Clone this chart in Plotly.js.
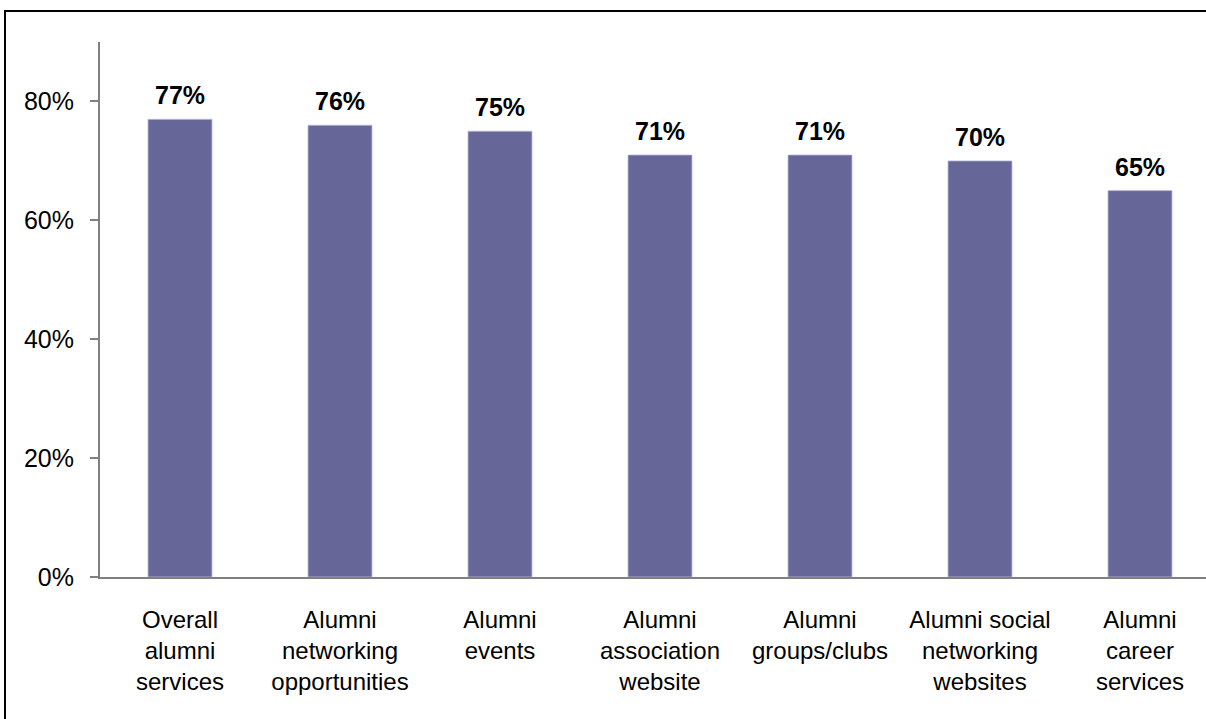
<!DOCTYPE html>
<html>
<head>
<meta charset="utf-8">
<script src="https://cdn.plot.ly/plotly-3.0.1.min.js"></script>
<style>
  html, body { margin:0; padding:0; background:#fff; overflow:hidden; width:1206px; height:719px; }
  #chart { position:absolute; left:0; top:0; width:1206px; height:719px; }
  #frameTop { position:absolute; left:4px; top:10px; width:1202px; height:2px; background:#000; pointer-events:none; }
  #frameLeft { position:absolute; left:4px; top:10px; width:2px; height:709px; background:#000; pointer-events:none; }
</style>
</head>
<body>
<div id="chart"></div>
<div id="frameTop"></div>
<div id="frameLeft"></div>
<script>
const categories = [
  "Overall<br>alumni<br>services",
  "Alumni<br>networking<br>opportunities",
  "Alumni<br>events",
  "Alumni<br>association<br>website",
  "Alumni<br>groups/clubs",
  "Alumni social<br>networking<br>websites",
  "Alumni<br>career<br>services"
];
const values = [77, 76, 75, 71, 71, 70, 65];
const valueLabels = values.map(v => v + "%");
const yTickVals = [0, 20, 40, 60, 80];
const yTickText = ["0%", "20%", "40%", "60%", "80%"];

const xIdx = categories.map((c, i) => i);
const FONT = "Liberation Sans, Arial, sans-serif";

const trace = {
  type: "bar",
  x: xIdx,
  y: values,
  width: 0.4,
  marker: { color: "#666699", line: { color: "rgba(190,190,225,0.8)", width: 1 } },
  hoverinfo: "none"
};

const annotations = values.map((v, i) => ({
  x: i, y: v, xref: "x", yref: "y",
  text: "<b>" + valueLabels[i] + "</b>",
  showarrow: false, yanchor: "bottom", yshift: 8,
  font: { family: FONT, size: 25, color: "#000" }
}));

const layout = {
  width: 1206, height: 719,
  margin: { l: 100, r: 0, t: 42, b: 142 },
  paper_bgcolor: "#fff", plot_bgcolor: "#fff",
  showlegend: false,
  bargap: 0.6,
  xaxis: {
    range: [-0.5, 6.4125],
    tickmode: "array", tickvals: xIdx, ticktext: categories,
    showline: true, linecolor: "#808080", linewidth: 2,
    showgrid: false, zeroline: false, ticks: "",
    ticklabelstandoff: 20,
    tickfont: { family: FONT, size: 24, color: "#000" },
    fixedrange: true
  },
  yaxis: {
    range: [0, 90],
    tickmode: "array", tickvals: yTickVals, ticktext: yTickText,
    showline: true, linecolor: "#808080", linewidth: 2,
    showgrid: false, zeroline: false,
    ticks: "outside", ticklen: 8, tickwidth: 2, tickcolor: "#808080",
    ticklabelstandoff: 11,
    tickfont: { family: FONT, size: 25, color: "#000" },
    fixedrange: true
  },
  annotations: annotations
};

Plotly.newPlot("chart", [trace], layout, { displayModeBar: false, staticPlot: true });
</script>
</body>
</html>
